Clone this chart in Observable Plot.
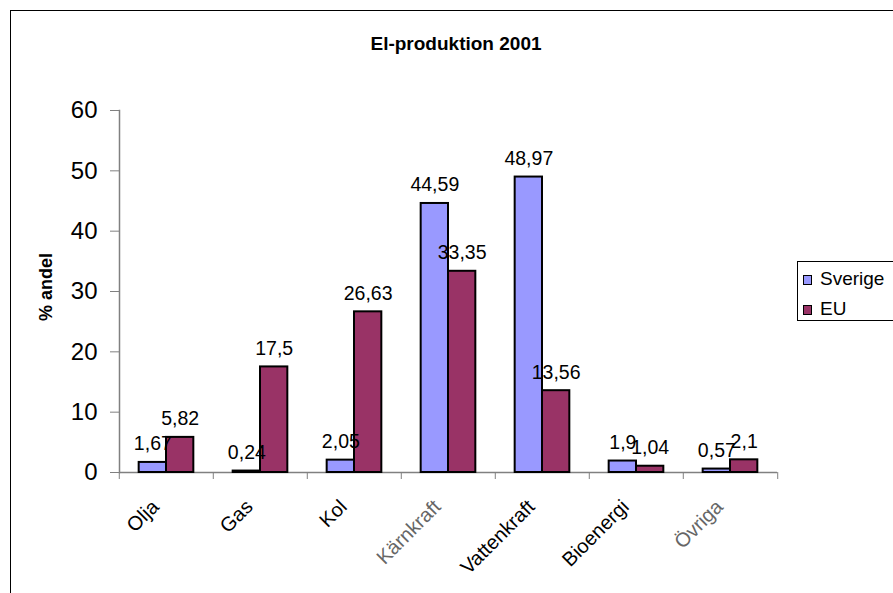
<!DOCTYPE html>
<html>
<head>
<meta charset="utf-8">
<script src="https://cdn.jsdelivr.net/npm/d3@7"></script>
<script src="https://cdn.jsdelivr.net/npm/@observablehq/plot@0.6"></script>
<style>
  html, body { margin: 0; padding: 0; background: #fff; }
  #wrap { position: relative; width: 893px; height: 593px; overflow: hidden; font-family: Arial, "Liberation Sans", sans-serif; color: #000; }
  #border { position: absolute; left: 10px; top: 10px; width: 900px; height: 600px; border-left: 1.5px solid #000; border-top: 1.5px solid #000; }
  #title { position: absolute; left: 0; top: 34px; width: 912px; text-align: center; font-weight: bold; font-size: 19px; line-height: 19px; white-space: nowrap; }
  #ylabel { position: absolute; left: -4px; top: 277px; width: 100px; height: 20px; line-height: 20px; text-align: center; font-weight: bold; font-size: 18px; transform: rotate(-90deg); white-space: nowrap; }
  #chart { position: absolute; left: 0; top: 0; }
  #legend { position: absolute; left: 797px; top: 261px; width: 120px; height: 58px; border: 1px solid #000; background: #fff; }
  .item { position: absolute; left: 5px; height: 20px; font-size: 19px; line-height: 20px; white-space: nowrap; }
  .sw { display: inline-block; width: 7px; height: 8px; border: 1.5px solid #000; margin-right: 8px; vertical-align: 0px; }
</style>
</head>
<body>
<div id="wrap">
  <div id="border"></div>
  <div id="chart"></div>
  <div id="title"></div>
  <div id="ylabel"></div>
  <div id="legend"></div>
</div>
<script>
// ---- data ----
const title = "El-produktion 2001";
const yLabel = "% andel";
const categories = ["Olja", "Gas", "Kol", "Kärnkraft", "Vattenkraft", "Bioenergi", "Övriga"];
const series = ["Sverige", "EU"];
const sverige = [1.67, 0.24, 2.05, 44.59, 48.97, 1.9, 0.57];
const eu = [5.82, 17.5, 26.63, 33.35, 13.56, 1.04, 2.1];
const yTicks = [0, 10, 20, 30, 40, 50, 60];
const colors = ["#9999FF", "#993366"];

const rows = categories.flatMap((c, i) => [
  {cat: c, series: series[0], value: sverige[i]},
  {cat: c, series: series[1], value: eu[i]}
]);

const W = 893, H = 593, mL = 117, mR = 115, mT = 110, mB = 121;
const step = (W - mL - mR) / categories.length;
const fmt = v => String(v).replace(".", ",");
const fadedLabels = new Set(["Kärnkraft", "Övriga"]);

const chart = Plot.plot({
  width: W, height: H,
  marginLeft: mL, marginRight: mR, marginTop: mT, marginBottom: mB,
  style: {fontFamily: 'Arial, "Liberation Sans", sans-serif', background: "transparent", color: "#000"},
  fx: {domain: categories, padding: 0, label: null},
  x: {domain: series, paddingInner: 0, paddingOuter: 0.72, axis: null, round: false},
  y: {domain: [0, 60], label: null},
  color: {domain: series, range: colors},
  marks: [
    Plot.ruleY([0], {stroke: "#808080", strokeWidth: 1.5}),
    Plot.frame({anchor: "left", fx: () => categories[0], stroke: "#808080", strokeWidth: 1.5}),
    Plot.barY(rows, {fx: "cat", x: "series", y: "value", fill: "series", stroke: "#000", strokeWidth: 2}),
    Plot.text(rows, {fx: "cat", x: "series", y: "value", text: d => fmt(d.value), lineAnchor: "bottom", dy: -12, fontSize: 19.5, fill: "#000"}),
    Plot.axisY({ticks: yTicks, tickSize: 9, tickPadding: 13, fontSize: 24, stroke: "#808080", fill: "#000", label: null}),
    Plot.axisFx({anchor: "bottom", tickSize: 7, fill: "none", stroke: "#808080", dx: -step / 2, label: null}),
    Plot.axisFx({anchor: "bottom", ticks: [categories[categories.length - 1]], tickSize: 7, fill: "none", stroke: "#808080", dx: step / 2, label: null}),
    Plot.axisFx({anchor: "bottom", tickSize: 0, tickPadding: 31, tickRotate: -45, dx: -11, fontSize: 20,
      fill: d => fadedLabels.has(d) ? "#666" : "#000", label: null})
  ]
});
document.getElementById("chart").appendChild(chart);

document.getElementById("title").textContent = title;
document.getElementById("ylabel").textContent = yLabel;
const legend = document.getElementById("legend");
series.forEach((s, i) => {
  const it = document.createElement("div");
  it.className = "item";
  it.style.top = (i === 0 ? 7 : 37) + "px";
  const sw = document.createElement("span");
  sw.className = "sw";
  sw.style.background = colors[i];
  it.appendChild(sw);
  it.appendChild(document.createTextNode(s));
  legend.appendChild(it);
});
</script>
</body>
</html>
